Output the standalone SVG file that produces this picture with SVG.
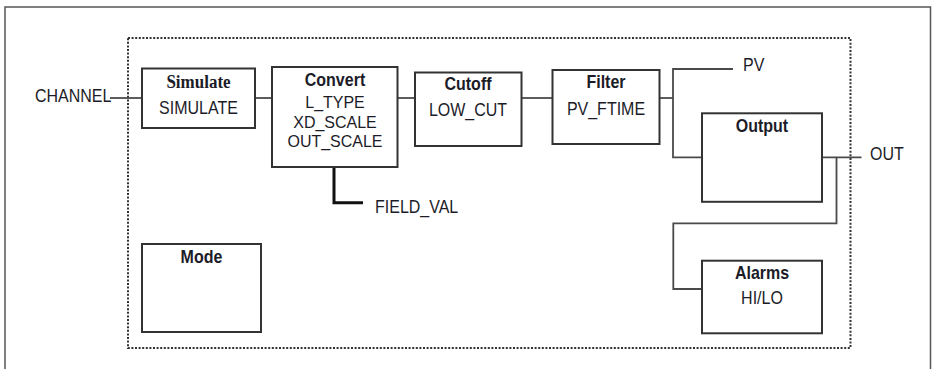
<svg xmlns="http://www.w3.org/2000/svg" width="933" height="369" viewBox="0 0 933 369">
<style>
.box{fill:#fff;stroke:#333;stroke-width:2}
.wire{fill:none;stroke:#4a4a4a;stroke-width:1.8}
.thick{fill:none;stroke:#111;stroke-width:3}
.frame{fill:none;stroke:#555;stroke-width:1.5}
.dots{fill:none;stroke:#333;stroke-width:2;stroke-dasharray:2 1.6}
text{font-family:"Liberation Sans",Arial,sans-serif;font-size:16px;fill:#1c1c28}
.b{font-weight:bold}
.s{font-family:"Liberation Serif","Times New Roman",serif;font-weight:bold;font-size:17px}
.m{text-anchor:middle}
</style>
<rect x="0" y="0" width="933" height="369" fill="#fff"/>
<path class="frame" d="M5,372 V7 H930.5 V372"/>
<rect class="dots" x="128" y="38" width="722.5" height="310"/>
<g id="connectors">
<path class="wire" d="M110,98 H142"/>
<path class="wire" d="M255,98 H272"/>
<path class="wire" d="M397.5,98 H415"/>
<path class="wire" d="M521.5,98 H552.5"/>
<path class="wire" d="M659.5,98 H673"/>
<path class="wire" d="M733,69 H673 V157.3 H702"/>
<path class="wire" d="M822,157.3 H861.5"/>
<path class="wire" d="M836.5,157.3 V223.3 H673.3 V289 H702"/>
<path class="thick" d="M334,167 V202.7 H363"/>
</g>
<g id="channel"><text transform="translate(35,101.5) scale(1,1.15)">CHANNEL</text></g>
<g id="simulate">
<rect class="box" x="142" y="68.5" width="113" height="59.5"/>
<text class="s m" transform="translate(198.5,88) scale(1,1.12)">Simulate</text>
<text class="m" transform="translate(198.5,114) scale(1,1.15)">SIMULATE</text>
</g>
<g id="convert">
<rect class="box" x="272" y="67" width="125.5" height="100"/>
<text class="b m" transform="translate(335,85.5) scale(1,1.15)">Convert</text>
<text class="m" transform="translate(335,108) scale(1,1.05)">L_TYPE</text>
<text class="m" transform="translate(335,127.5) scale(1,1.05)">XD_SCALE</text>
<text class="m" transform="translate(335,147) scale(1,1.05)">OUT_SCALE</text>
</g>
<g id="field_val"><text transform="translate(375,213) scale(1,1.15)">FIELD_VAL</text></g>
<g id="cutoff">
<rect class="box" x="415" y="72.5" width="106.5" height="73.5"/>
<text class="b m" transform="translate(468,90) scale(1,1.15)">Cutoff</text>
<text class="m" transform="translate(468,116) scale(1,1.15)">LOW_CUT</text>
</g>
<g id="filter">
<rect class="box" x="552.5" y="70" width="107" height="74"/>
<text class="b m" transform="translate(606,88) scale(1,1.15)">Filter</text>
<text class="m" transform="translate(606,115) scale(1,1.15)">PV_FTIME</text>
</g>
<g id="pv"><text transform="translate(743,71) scale(1,1.15)">PV</text></g>
<g id="output">
<rect class="box" x="702" y="113.3" width="120" height="88.5"/>
<text class="b m" transform="translate(762,131.5) scale(1,1.15)">Output</text>
</g>
<g id="out"><text transform="translate(870,160.3) scale(1,1.15)">OUT</text></g>
<g id="alarms">
<rect class="box" x="702" y="260.7" width="120" height="72.6"/>
<text class="b m" transform="translate(762,279) scale(1,1.15)">Alarms</text>
<text class="m" transform="translate(762,304) scale(1,1.15)">HI/LO</text>
</g>
<g id="mode">
<rect class="box" x="142" y="244" width="119" height="88"/>
<text class="b m" transform="translate(201.5,263) scale(1,1.15)">Mode</text>
</g>
</svg>
